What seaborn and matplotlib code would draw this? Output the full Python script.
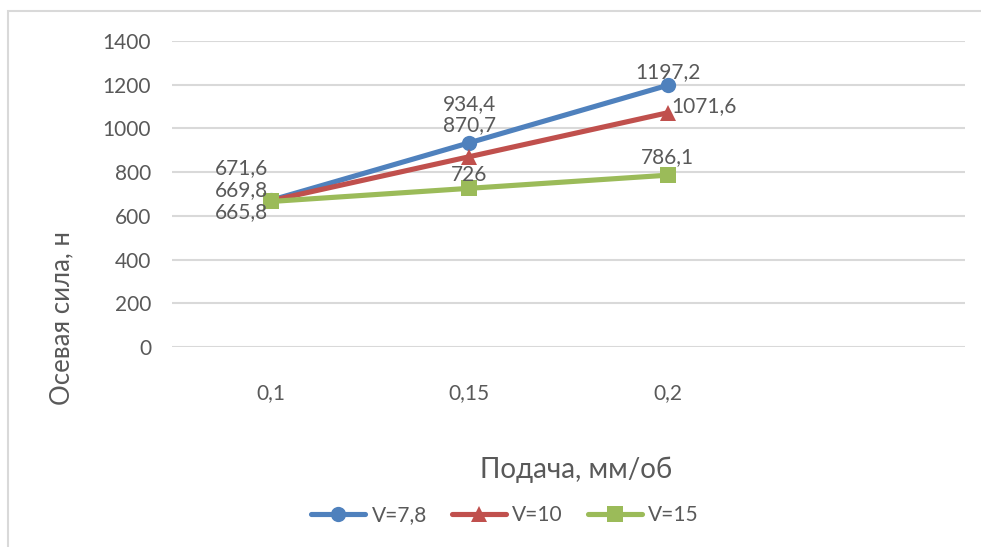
import matplotlib
matplotlib.use("Agg")
import matplotlib.pyplot as plt
from matplotlib.patches import Rectangle
import seaborn as sns
import pandas as pd

# Feed rates (category axis) and axial force for each cutting speed
feeds = ["0,1", "0,15", "0,2"]
force_v78 = [671.6, 934.4, 1197.2]
force_v10 = [669.8, 870.7, 1071.6]
force_v15 = [665.8, 726.0, 786.1]
series_names = ["V=7,8", "V=10", "V=15"]
y_ticks = [0, 200, 400, 600, 800, 1000, 1200, 1400]

colors = ["#4f81bd", "#c0504d", "#9bbb59"]
markers = ["o", "^", "s"]
text_color = "#595959"
grid_color = "#d9d9d9"
LW = 3.7
MS = 11

sns.set_theme(style="white")
plt.rcParams["font.family"] = ["Lato", "DejaVu Sans"]

rows = []
for name, vals in zip(series_names, [force_v78, force_v10, force_v15]):
    for i, v in enumerate(vals):
        rows.append({"pos": i, "force": v, "series": name})
df = pd.DataFrame(rows)

fig = plt.figure(figsize=(9.81, 5.47), dpi=100)
ax = fig.add_axes([172 / 981, 1 - 347 / 547, (965 - 172) / 981, (347 - 41) / 547])

sns.lineplot(data=df, x="pos", y="force", hue="series", style="series",
             hue_order=series_names, style_order=series_names,
             palette=colors, markers=markers, dashes=False,
             linewidth=LW, markersize=MS, markeredgewidth=0,
             ax=ax, legend=False)

ax.set_xlim(-0.5, 3.5)
ax.set_ylim(0, 1400)
ax.set_yticks(y_ticks)
ax.set_yticklabels([str(t) for t in y_ticks], fontsize=15, color=text_color)
ax.set_xticks(range(len(feeds)))
ax.set_xticklabels(feeds, fontsize=15, color=text_color)
ax.tick_params(axis="y", length=0, pad=15)
ax.tick_params(axis="x", length=0, pad=26)
ax.grid(axis="y", color=grid_color, linewidth=1.5)
ax.grid(axis="x", visible=False)
ax.set_axisbelow(True)
for s in ax.spines.values():
    s.set_visible(False)

ax.set_xlabel("Подача, мм/об", fontsize=20, color=text_color)
ax.xaxis.label.set_va("center")
ax.xaxis.set_label_coords((576 - 172) / 793, (347 - 470) / 306)
ax.set_ylabel("Осевая сила, н", fontsize=18.5, color=text_color)
ax.yaxis.label.set_va("center")
ax.yaxis.set_label_coords((62 - 172) / 793, (347 - 318) / 306)

# Data labels: offsets in pixels (ha, dx, dy) per series and point
label_pos = [
    [("right", -3, 32), ("center", 0, 39), ("center", 0, 13)],
    [("right", -3, 11), ("center", 0, 32), ("left", 4, 7)],
    [("right", -3, -11), ("center", 0, 13), ("center", 0, 18)],
]
for vals, lp in zip([force_v78, force_v10, force_v15], label_pos):
    for i, (v, (ha, dx, dy)) in enumerate(zip(vals, lp)):
        txt = f"{v:g}".replace(".", ",")
        ax.annotate(txt, (i, v), xytext=(dx, dy), textcoords="offset pixels",
                    ha=ha, va="center", fontsize=15, color=text_color)

# Legend
handles = [plt.Line2D([], [], color=c, marker=m, linewidth=LW, markersize=MS,
                      markeredgewidth=0) for c, m in zip(colors, markers)]
fig.legend(handles, series_names, loc="center", ncol=3, frameon=False,
           bbox_to_anchor=(505 / 981, 1 - 515 / 547), fontsize=15,
           labelcolor=text_color, handlelength=2.6, handletextpad=0.3,
           columnspacing=1.2)

# Chart area border
fig.patches.append(Rectangle((8 / 981, -0.1), 1.2, 1 - 11 / 547 + 0.1,
                             transform=fig.transFigure, fill=False,
                             edgecolor=grid_color, linewidth=1.5))

fig.savefig("out.png", dpi=100, facecolor="white")
